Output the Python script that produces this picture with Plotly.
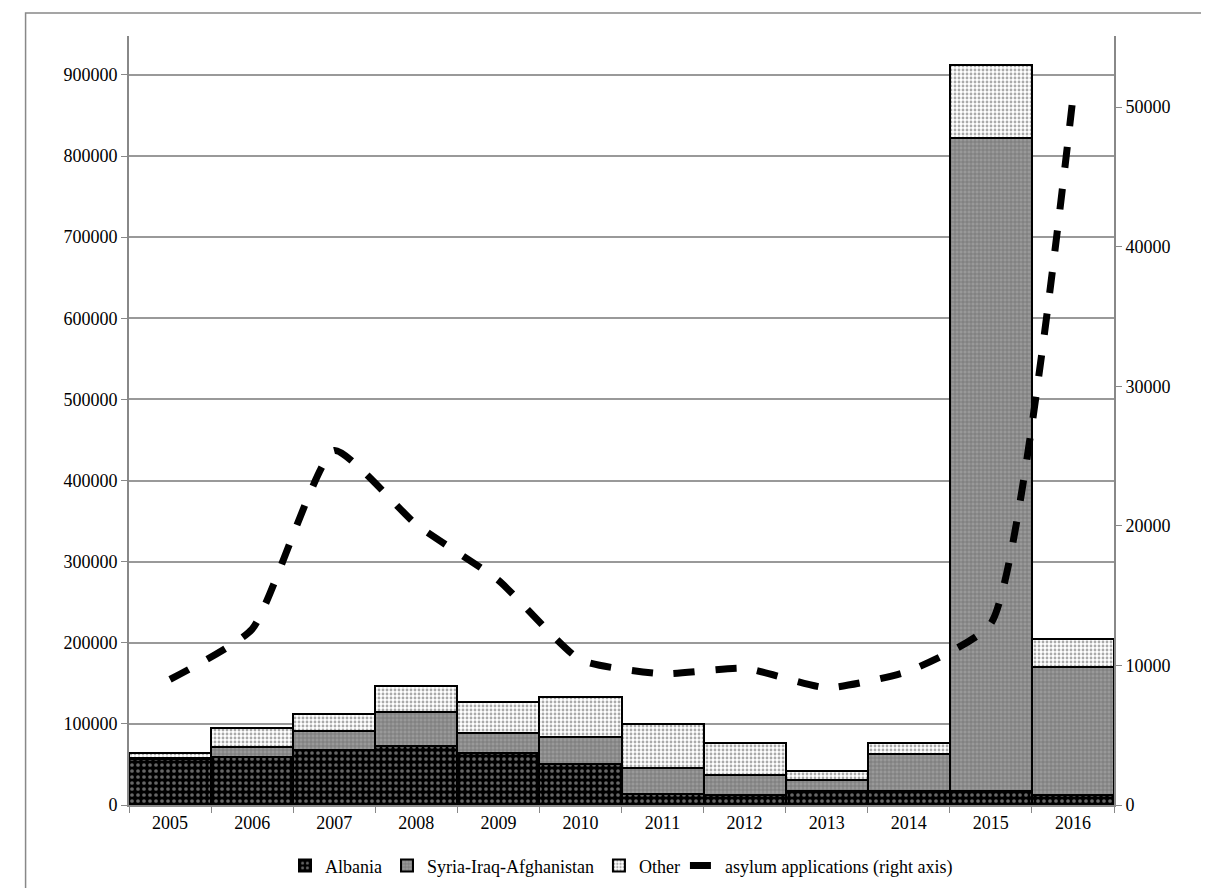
import plotly.graph_objects as go

years = ["2005","2006","2007","2008","2009","2010","2011","2012","2013","2014","2015","2016"]
albania = [56500,58600,68000,73300,64300,50700,13500,12700,17600,16800,16800,12700]
syria_tot = [57500,70900,91700,114300,88800,84400,45500,37200,31100,63000,822000,170000]
totals = [63900,94600,112200,146200,126500,132700,99500,77000,42100,77000,912000,205000]
asylum = [9000,12600,25400,20100,16100,10400,9400,9800,8400,9600,13000,50700]

syria = [s - a for s, a in zip(syria_tot, albania)]
other = [t - s for t, s in zip(totals, syria_tot)]

fig = go.Figure()
line = dict(color="black", width=2)
fig.add_bar(x=years, y=albania, name="Albania",
            marker=dict(color="black", line=line,
                        pattern=dict(shape=".", fgcolor="#cccccc", size=6, solidity=0.3)))
fig.add_bar(x=years, y=syria, name="Syria-Iraq-Afghanistan",
            marker=dict(color="#999999", line=line,
                        pattern=dict(shape="+", fgcolor="#444444", size=4, solidity=0.3)))
fig.add_bar(x=years, y=other, name="Other",
            marker=dict(color="white", line=line,
                        pattern=dict(shape=".", fgcolor="#555555", size=4, solidity=0.4)))
fig.add_scatter(x=years, y=asylum, yaxis="y2", mode="lines", name="asylum applications (right axis)",
                line=dict(color="black", width=7, dash="dash", shape="spline", smoothing=0.5))

fig.update_layout(
    width=1209, height=888, barmode="stack", bargap=0,
    paper_bgcolor="white", plot_bgcolor="white",
    font=dict(family="Liberation Serif", size=18, color="black"),
    margin=dict(l=121, r=103, t=28, b=76),
    xaxis=dict(showline=True, linecolor="#888888", linewidth=2, ticks="outside",
               tickcolor="#888888", ticklen=6, tickson="boundaries"),
    yaxis=dict(range=[0, 948000], dtick=100000, showgrid=True, gridcolor="#999999",
               gridwidth=1.5, showline=True, linecolor="#888888", linewidth=2,
               ticks="outside", tickcolor="#888888", ticklen=6, tickformat="d", zeroline=False),
    yaxis2=dict(range=[0, 55100], dtick=10000, overlaying="y", side="right",
                showgrid=False, showline=True, linecolor="#888888", linewidth=2,
                ticks="outside", tickcolor="#888888", ticklen=6, tickformat="d", zeroline=False),
    legend=dict(orientation="h", x=0.5, xanchor="center", y=-0.055, yanchor="top",
                font=dict(size=18), traceorder="normal", itemwidth=30, entrywidthmode="pixels"),
    shapes=[dict(type="rect", xref="paper", yref="paper", x0=-0.105, x1=1.1, y0=-0.11, y1=1.03,
                 line=dict(color="#888888", width=1.5))],
)
fig.write_html("out.html")
